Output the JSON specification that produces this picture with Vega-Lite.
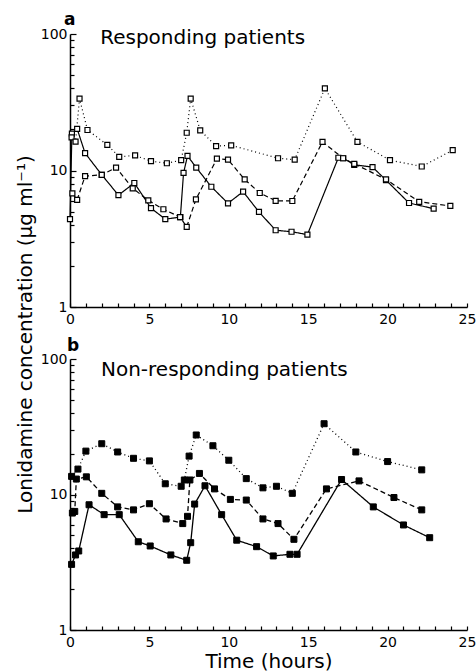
{
  "$schema": "https://vega.github.io/schema/vega-lite/v6.json",
  "padding": {"left": 15, "top": 11, "right": 0, "bottom": 0},
  "background": "white",
  "bounds": "flush",
  "spacing": 52,
  "config": {
    "view": {"stroke": null},
    "font": "DejaVu Sans",
    "axis": {
      "grid": false,
      "domainColor": "black",
      "domainWidth": 1.5,
      "tickColor": "black",
      "tickWidth": 1.2,
      "tickSize": -4,
      "labelColor": "black",
      "labelFont": "DejaVu Sans",
      "labelFontSize": 14,
      "labelFlush": false,
      "labelBound": false,
      "labelOverlap": false,
      "titleFont": "DejaVu Sans",
      "titleFontSize": 20,
      "titleFontWeight": "normal",
      "titleColor": "black"
    },
    "axisX": {"labelPadding": 9, "tickCount": 30},
    "axisY": {"labelPadding": 9, "tickCount": 30},
    "title": {"font": "DejaVu Sans", "fontSize": 17, "fontWeight": "bold", "color": "black", "anchor": "start", "frame": "group"}
  },
  "datasets": {
    "pk": [
      {"p": "a", "s": "s1", "t": 0, "c": 4.4},
      {"p": "a", "s": "s1", "t": 0.12, "c": 18.6},
      {"p": "a", "s": "s1", "t": 0.45, "c": 20.2},
      {"p": "a", "s": "s1", "t": 0.95, "c": 13.4},
      {"p": "a", "s": "s1", "t": 2.0, "c": 9.3},
      {"p": "a", "s": "s1", "t": 3.05, "c": 6.6},
      {"p": "a", "s": "s1", "t": 4.05, "c": 8.1},
      {"p": "a", "s": "s1", "t": 5.1, "c": 5.3},
      {"p": "a", "s": "s1", "t": 6.0, "c": 4.4},
      {"p": "a", "s": "s1", "t": 6.95, "c": 4.56},
      {"p": "a", "s": "s1", "t": 7.15, "c": 9.6},
      {"p": "a", "s": "s1", "t": 7.4, "c": 12.8},
      {"p": "a", "s": "s1", "t": 7.95, "c": 10.5},
      {"p": "a", "s": "s1", "t": 8.9, "c": 7.6},
      {"p": "a", "s": "s1", "t": 9.95, "c": 5.75},
      {"p": "a", "s": "s1", "t": 10.9, "c": 7.0},
      {"p": "a", "s": "s1", "t": 11.9, "c": 4.97},
      {"p": "a", "s": "s1", "t": 12.95, "c": 3.65},
      {"p": "a", "s": "s1", "t": 13.95, "c": 3.56},
      {"p": "a", "s": "s1", "t": 14.95, "c": 3.39},
      {"p": "a", "s": "s1", "t": 16.9, "c": 12.4},
      {"p": "a", "s": "s1", "t": 17.2, "c": 12.3},
      {"p": "a", "s": "s1", "t": 17.9, "c": 11.0},
      {"p": "a", "s": "s1", "t": 19.05, "c": 10.6},
      {"p": "a", "s": "s1", "t": 19.9, "c": 8.5},
      {"p": "a", "s": "s1", "t": 21.35, "c": 5.78},
      {"p": "a", "s": "s1", "t": 22.9, "c": 5.25},
      {"p": "a", "s": "s2", "t": 0.15, "c": 6.8},
      {"p": "a", "s": "s2", "t": 0.45, "c": 6.1},
      {"p": "a", "s": "s2", "t": 0.95, "c": 9.1},
      {"p": "a", "s": "s2", "t": 2.0, "c": 9.3},
      {"p": "a", "s": "s2", "t": 2.9, "c": 10.5},
      {"p": "a", "s": "s2", "t": 3.95, "c": 7.4},
      {"p": "a", "s": "s2", "t": 4.93, "c": 6.05},
      {"p": "a", "s": "s2", "t": 5.88, "c": 5.2},
      {"p": "a", "s": "s2", "t": 6.93, "c": 4.56},
      {"p": "a", "s": "s2", "t": 7.35, "c": 3.86},
      {"p": "a", "s": "s2", "t": 7.93, "c": 6.15},
      {"p": "a", "s": "s2", "t": 9.25, "c": 12.2},
      {"p": "a", "s": "s2", "t": 9.95, "c": 12.0},
      {"p": "a", "s": "s2", "t": 11.0, "c": 8.6},
      {"p": "a", "s": "s2", "t": 11.95, "c": 6.84},
      {"p": "a", "s": "s2", "t": 12.95, "c": 6.0},
      {"p": "a", "s": "s2", "t": 14.0, "c": 5.98},
      {"p": "a", "s": "s2", "t": 15.9, "c": 16.2},
      {"p": "a", "s": "s2", "t": 17.2, "c": 12.3},
      {"p": "a", "s": "s2", "t": 17.9, "c": 11.2},
      {"p": "a", "s": "s2", "t": 19.9, "c": 8.6},
      {"p": "a", "s": "s2", "t": 21.99, "c": 5.9},
      {"p": "a", "s": "s2", "t": 23.95, "c": 5.5},
      {"p": "a", "s": "s3", "t": 0.1, "c": 17.5},
      {"p": "a", "s": "s3", "t": 0.35, "c": 16.3},
      {"p": "a", "s": "s3", "t": 0.6, "c": 33.6},
      {"p": "a", "s": "s3", "t": 1.1, "c": 19.8},
      {"p": "a", "s": "s3", "t": 2.35, "c": 15.4},
      {"p": "a", "s": "s3", "t": 3.1, "c": 12.6},
      {"p": "a", "s": "s3", "t": 4.1, "c": 12.9},
      {"p": "a", "s": "s3", "t": 5.1, "c": 11.7},
      {"p": "a", "s": "s3", "t": 6.1, "c": 11.3},
      {"p": "a", "s": "s3", "t": 7.0, "c": 11.9},
      {"p": "a", "s": "s3", "t": 7.35, "c": 18.9},
      {"p": "a", "s": "s3", "t": 7.6, "c": 33.6},
      {"p": "a", "s": "s3", "t": 8.2, "c": 19.7},
      {"p": "a", "s": "s3", "t": 9.2, "c": 15.1},
      {"p": "a", "s": "s3", "t": 10.15, "c": 15.3},
      {"p": "a", "s": "s3", "t": 13.1, "c": 12.3},
      {"p": "a", "s": "s3", "t": 14.15, "c": 12.0},
      {"p": "a", "s": "s3", "t": 16.05, "c": 40},
      {"p": "a", "s": "s3", "t": 18.1, "c": 16.2},
      {"p": "a", "s": "s3", "t": 20.15, "c": 11.9},
      {"p": "a", "s": "s3", "t": 22.15, "c": 10.7},
      {"p": "a", "s": "s3", "t": 24.1, "c": 14.1},
      {"p": "b", "s": "s1", "t": 0.1, "c": 3.05},
      {"p": "b", "s": "s1", "t": 0.35, "c": 3.58},
      {"p": "b", "s": "s1", "t": 0.55, "c": 3.83},
      {"p": "b", "s": "s1", "t": 1.2, "c": 8.4},
      {"p": "b", "s": "s1", "t": 2.15, "c": 7.1},
      {"p": "b", "s": "s1", "t": 3.1, "c": 7.1},
      {"p": "b", "s": "s1", "t": 4.3, "c": 4.48},
      {"p": "b", "s": "s1", "t": 5.05, "c": 4.17},
      {"p": "b", "s": "s1", "t": 6.35, "c": 3.58},
      {"p": "b", "s": "s1", "t": 7.35, "c": 3.27},
      {"p": "b", "s": "s1", "t": 7.6, "c": 4.41},
      {"p": "b", "s": "s1", "t": 7.85, "c": 8.5},
      {"p": "b", "s": "s1", "t": 8.5, "c": 11.6},
      {"p": "b", "s": "s1", "t": 9.55, "c": 7.1},
      {"p": "b", "s": "s1", "t": 10.5, "c": 4.6},
      {"p": "b", "s": "s1", "t": 11.75, "c": 4.12},
      {"p": "b", "s": "s1", "t": 12.8, "c": 3.52},
      {"p": "b", "s": "s1", "t": 13.85, "c": 3.62},
      {"p": "b", "s": "s1", "t": 14.3, "c": 3.62},
      {"p": "b", "s": "s1", "t": 17.1, "c": 12.9},
      {"p": "b", "s": "s1", "t": 19.1, "c": 8.1},
      {"p": "b", "s": "s1", "t": 21.0, "c": 5.96},
      {"p": "b", "s": "s1", "t": 22.65, "c": 4.8},
      {"p": "b", "s": "s2", "t": 0.15, "c": 7.3},
      {"p": "b", "s": "s2", "t": 0.3, "c": 7.5},
      {"p": "b", "s": "s2", "t": 0.4, "c": 13.0},
      {"p": "b", "s": "s2", "t": 1.03, "c": 13.5},
      {"p": "b", "s": "s2", "t": 2.0, "c": 10.2},
      {"p": "b", "s": "s2", "t": 3.0, "c": 8.1},
      {"p": "b", "s": "s2", "t": 4.0, "c": 7.7},
      {"p": "b", "s": "s2", "t": 5.0, "c": 8.55},
      {"p": "b", "s": "s2", "t": 6.05, "c": 6.6},
      {"p": "b", "s": "s2", "t": 7.1, "c": 6.1},
      {"p": "b", "s": "s2", "t": 7.4, "c": 6.9},
      {"p": "b", "s": "s2", "t": 7.55, "c": 12.8},
      {"p": "b", "s": "s2", "t": 8.15, "c": 14.3},
      {"p": "b", "s": "s2", "t": 9.1, "c": 11.0},
      {"p": "b", "s": "s2", "t": 10.1, "c": 9.2},
      {"p": "b", "s": "s2", "t": 11.1, "c": 9.1},
      {"p": "b", "s": "s2", "t": 12.15, "c": 6.6},
      {"p": "b", "s": "s2", "t": 13.1, "c": 6.1},
      {"p": "b", "s": "s2", "t": 14.1, "c": 4.67},
      {"p": "b", "s": "s2", "t": 16.15, "c": 11.0},
      {"p": "b", "s": "s2", "t": 18.2, "c": 12.6},
      {"p": "b", "s": "s2", "t": 20.4, "c": 9.5},
      {"p": "b", "s": "s2", "t": 22.15, "c": 7.7},
      {"p": "b", "s": "s3", "t": 0.1, "c": 13.6},
      {"p": "b", "s": "s3", "t": 0.5, "c": 15.4},
      {"p": "b", "s": "s3", "t": 1.0, "c": 20.9},
      {"p": "b", "s": "s3", "t": 2.0, "c": 23.7},
      {"p": "b", "s": "s3", "t": 3.0, "c": 20.6},
      {"p": "b", "s": "s3", "t": 4.0, "c": 18.5},
      {"p": "b", "s": "s3", "t": 5.0, "c": 17.7},
      {"p": "b", "s": "s3", "t": 6.0, "c": 12.0},
      {"p": "b", "s": "s3", "t": 7.0, "c": 11.5},
      {"p": "b", "s": "s3", "t": 7.2, "c": 12.8},
      {"p": "b", "s": "s3", "t": 7.5, "c": 19.2},
      {"p": "b", "s": "s3", "t": 7.95, "c": 27.5},
      {"p": "b", "s": "s3", "t": 9.0, "c": 22.9},
      {"p": "b", "s": "s3", "t": 10.0, "c": 17.9},
      {"p": "b", "s": "s3", "t": 11.1, "c": 13.1},
      {"p": "b", "s": "s3", "t": 12.15, "c": 11.2},
      {"p": "b", "s": "s3", "t": 13.0, "c": 11.5},
      {"p": "b", "s": "s3", "t": 14.0, "c": 10.2},
      {"p": "b", "s": "s3", "t": 16.0, "c": 33.3},
      {"p": "b", "s": "s3", "t": 18.0, "c": 20.6},
      {"p": "b", "s": "s3", "t": 20.0, "c": 17.5},
      {"p": "b", "s": "s3", "t": 22.15, "c": 15.2}
    ]
  },
  "vconcat": [
    {
      "width": 397,
      "height": 273,
      "title": {"text": "a", "offset": -2, "dx": -6},
      "layer": [
        {
          "data": {"name": "pk"},
          "transform": [{"filter": "datum.p === 'a'"}],
          "mark": {"type": "line", "color": "black", "strokeWidth": 1.2},
          "encoding": {
            "x": {"field": "t", "type": "quantitative", "scale": {"domain": [0, 25], "nice": false}, "axis": {"title": null, "labelOverlap": false, "tickCount": 30, "values": [0,1,2,3,4,5,6,7,8,9,10,11,12,13,14,15,16,17,18,19,20,21,22,23,24,25], "labelExpr": "datum.value % 5 === 0 ? datum.label : ''", "format": "d"}},
            "y": {"field": "c", "type": "quantitative", "scale": {"type": "log", "domain": [1, 100], "nice": false}, "axis": {"title": "Lonidamine concentration (μg ml⁻¹)", "titleY": 300, "titleX": -35, "labelOverlap": false, "tickCount": 30, "values": [1,2,3,4,5,6,7,8,9,10,20,30,40,50,60,70,80,90,100], "labelExpr": "datum.value === 1 || datum.value === 10 || datum.value === 100 ? datum.label : ''", "tickSize": {"condition": {"test": "datum.value === 1 || datum.value === 10 || datum.value === 100", "value": -6}, "value": -4}, "format": "d"}},
            "strokeDash": {"field": "s", "type": "nominal", "scale": {"domain": ["s1", "s2", "s3"], "range": [[1, 0], [5, 3], [1, 3]]}, "legend": null}
          }
        },
        {
          "data": {"name": "pk"},
          "transform": [{"filter": "datum.p === 'a'"}],
          "mark": {"type": "point", "shape": "square", "filled": true, "fill": "white", "stroke": "black", "strokeWidth": 1.2, "size": 25, "opacity": 1},
          "encoding": {
            "x": {"field": "t", "type": "quantitative"},
            "y": {"field": "c", "type": "quantitative"}
          }
        },
        {
          "data": {"values": [{"label": "Responding patients"}]},
          "mark": {"type": "text", "align": "left", "baseline": "alphabetic", "font": "DejaVu Sans", "fontSize": 20, "color": "black"},
          "encoding": {
            "x": {"datum": 1.9},
            "y": {"datum": 84},
            "text": {"field": "label"}
          }
        }
      ]
    },
    {
      "width": 397,
      "height": 271,
      "title": {"text": "b", "offset": -3, "dx": -3},
      "layer": [
        {
          "data": {"name": "pk"},
          "transform": [{"filter": "datum.p === 'b'"}],
          "mark": {"type": "line", "color": "black", "strokeWidth": 1.3},
          "encoding": {
            "x": {"field": "t", "type": "quantitative", "scale": {"domain": [0, 25], "nice": false}, "axis": {"title": "Time (hours)", "titlePadding": 2, "labelOverlap": false, "tickCount": 30, "values": [0,1,2,3,4,5,6,7,8,9,10,11,12,13,14,15,16,17,18,19,20,21,22,23,24,25], "labelExpr": "datum.value % 5 === 0 ? datum.label : ''", "format": "d"}},
            "y": {"field": "c", "type": "quantitative", "scale": {"type": "log", "domain": [1, 100], "nice": false}, "axis": {"title": null, "labelOverlap": false, "tickCount": 30, "values": [1,2,3,4,5,6,7,8,9,10,20,30,40,50,60,70,80,90,100], "labelExpr": "datum.value === 1 || datum.value === 10 || datum.value === 100 ? datum.label : ''", "tickSize": {"condition": {"test": "datum.value === 1 || datum.value === 10 || datum.value === 100", "value": -6}, "value": -4}, "format": "d"}},
            "strokeDash": {"field": "s", "type": "nominal", "scale": {"domain": ["s1", "s2", "s3"], "range": [[1, 0], [5, 3], [1, 3]]}, "legend": null}
          }
        },
        {
          "data": {"name": "pk"},
          "transform": [{"filter": "datum.p === 'b'"}],
          "mark": {"type": "point", "shape": "square", "filled": true, "fill": "black", "stroke": "black", "strokeWidth": 1, "size": 36, "opacity": 1},
          "encoding": {
            "x": {"field": "t", "type": "quantitative"},
            "y": {"field": "c", "type": "quantitative"}
          }
        },
        {
          "data": {"values": [{"label": "Non-responding patients"}]},
          "mark": {"type": "text", "align": "left", "baseline": "alphabetic", "font": "DejaVu Sans", "fontSize": 20, "color": "black"},
          "encoding": {
            "x": {"datum": 1.95},
            "y": {"datum": 75},
            "text": {"field": "label"}
          }
        }
      ]
    }
  ]
}
